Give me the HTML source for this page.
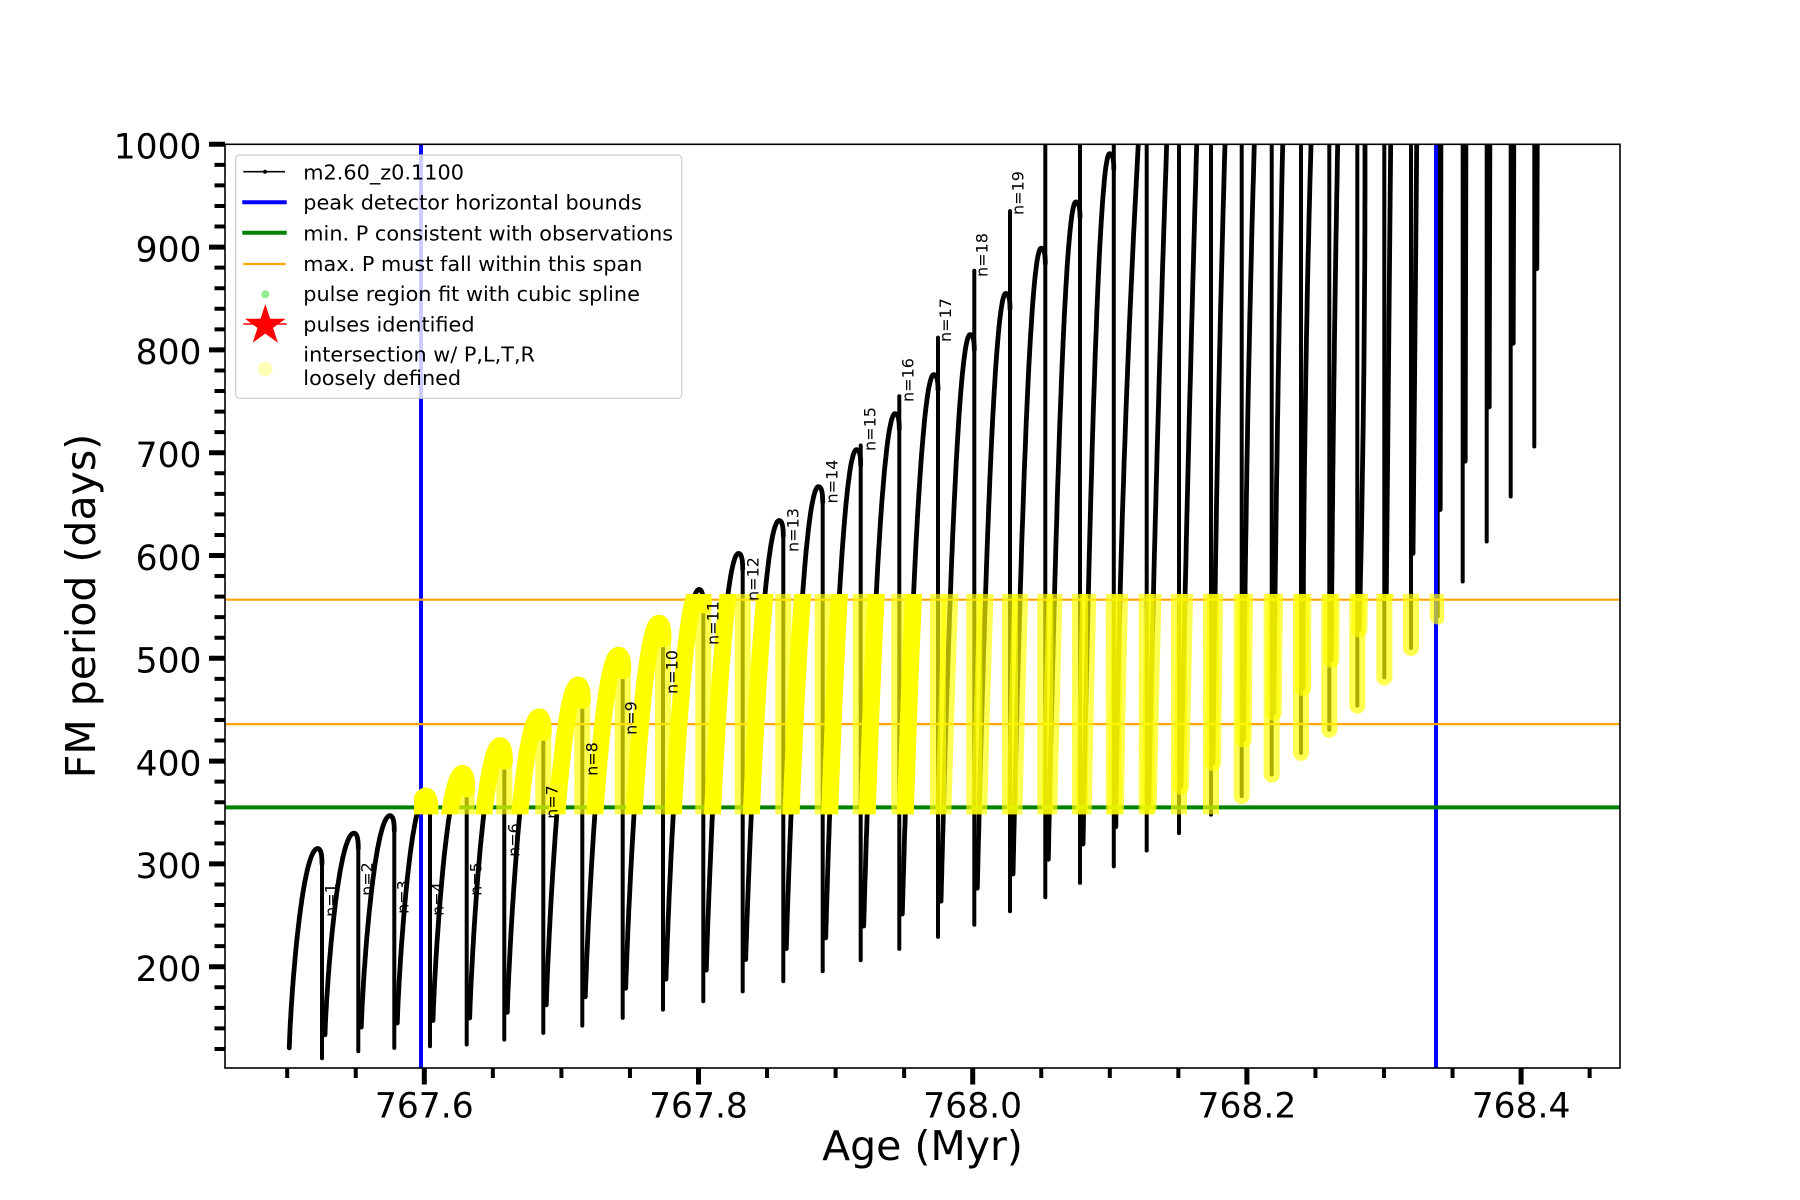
<!DOCTYPE html>
<html><head><meta charset="utf-8">
<style>
html,body{margin:0;padding:0;background:#fff;}
svg{display:block;font-family:"DejaVu Sans","Liberation Sans",sans-serif;}
</style></head>
<body>
<svg id="c" width="1800" height="1200" viewBox="0 0 1800 1200" xmlns="http://www.w3.org/2000/svg">
<defs>
<clipPath id="ax"><rect x="225" y="144.3" width="1395" height="923.7"/></clipPath>
<clipPath id="band"><rect x="414" y="594" width="1030" height="220.4"/></clipPath>
</defs>
<rect width="1800" height="1200" fill="#fff"/>

<g id="black" clip-path="url(#ax)" fill="none" stroke="#000" stroke-linejoin="round" stroke-linecap="round"></g>

<line x1="421" y1="144.3" x2="421" y2="1068" stroke="#0000ff" stroke-width="4"/>
<line x1="1436" y1="144.3" x2="1436" y2="1068" stroke="#0000ff" stroke-width="4"/>
<line x1="225" y1="807.4" x2="1620" y2="807.4" stroke="#008000" stroke-width="4"/>
<line x1="225" y1="599.7" x2="1620" y2="599.7" stroke="#ffa500" stroke-width="2.2"/>
<line x1="225" y1="724.1" x2="1620" y2="724.1" stroke="#ffa500" stroke-width="2.2"/>

<g id="yellow" clip-path="url(#band)" fill="none" stroke="#ffff00" stroke-linejoin="round" stroke-linecap="round"></g>

<g font-size="16" fill="#000" text-anchor="middle">
<text transform="translate(331,900) rotate(-90)" dy="0.35em">n=1</text>
<text transform="translate(367,879) rotate(-90)" dy="0.35em">n=2</text>
<text transform="translate(403,897) rotate(-90)" dy="0.35em">n=3</text>
<text transform="translate(438,899) rotate(-90)" dy="0.35em">n=4</text>
<text transform="translate(476,879) rotate(-90)" dy="0.35em">n=5</text>
<text transform="translate(514,840) rotate(-90)" dy="0.35em">n=6</text>
<text transform="translate(552,802) rotate(-90)" dy="0.35em">n=7</text>
<text transform="translate(592,759) rotate(-90)" dy="0.35em">n=8</text>
<text transform="translate(631,718) rotate(-90)" dy="0.35em">n=9</text>
<text transform="translate(672,672) rotate(-90)" dy="0.35em">n=10</text>
<text transform="translate(713,623) rotate(-90)" dy="0.35em">n=11</text>
<text transform="translate(753,579) rotate(-90)" dy="0.35em">n=12</text>
<text transform="translate(793,530) rotate(-90)" dy="0.35em">n=13</text>
<text transform="translate(832,481.5) rotate(-90)" dy="0.35em">n=14</text>
<text transform="translate(870,429) rotate(-90)" dy="0.35em">n=15</text>
<text transform="translate(908,380) rotate(-90)" dy="0.35em">n=16</text>
<text transform="translate(945.5,320) rotate(-90)" dy="0.35em">n=17</text>
<text transform="translate(982,255) rotate(-90)" dy="0.35em">n=18</text>
<text transform="translate(1018,193) rotate(-90)" dy="0.35em">n=19</text>
</g>

<!-- spines -->
<rect x="225" y="144.3" width="1395" height="923.7" fill="none" stroke="#000" stroke-width="1.6"/>

<!-- y ticks -->
<path stroke="#000" stroke-width="5" fill="none" d="M209 144.3H225M209 247.1H225M209 349.9H225M209 452.7H225M209 555.5H225M209 658.3H225M209 761.1H225M209 863.9H225M209 966.7H225"/>
<path stroke="#000" stroke-width="4" fill="none" d="M214.5 164.86H225M214.5 185.42H225M214.5 205.98H225M214.5 226.54H225M214.5 267.66H225M214.5 288.22H225M214.5 308.78H225M214.5 329.34H225M214.5 370.46H225M214.5 391.02H225M214.5 411.58H225M214.5 432.14H225M214.5 473.26H225M214.5 493.82H225M214.5 514.38H225M214.5 534.94H225M214.5 576.06H225M214.5 596.62H225M214.5 617.18H225M214.5 637.74H225M214.5 678.86H225M214.5 699.42H225M214.5 719.98H225M214.5 740.54H225M214.5 781.66H225M214.5 802.22H225M214.5 822.78H225M214.5 843.34H225M214.5 884.46H225M214.5 905.02H225M214.5 925.58H225M214.5 946.14H225M214.5 987.26H225M214.5 1007.82H225M214.5 1028.38H225M214.5 1048.94H225"/>
<!-- x ticks -->
<path stroke="#000" stroke-width="5" fill="none" d="M424.3 1068V1084.5M698.5 1068V1084.5M972.7 1068V1084.5M1246.9 1068V1084.5M1521.1 1068V1084.5"/>
<path stroke="#000" stroke-width="4" fill="none" d="M287.2 1068V1078M355.75 1068V1078M492.85 1068V1078M561.4 1068V1078M629.95 1068V1078M767.05 1068V1078M835.6 1068V1078M904.15 1068V1078M1041.25 1068V1078M1109.8 1068V1078M1178.35 1068V1078M1315.45 1068V1078M1384 1068V1078M1452.55 1068V1078M1589.65 1068V1078"/>

<g font-size="34.5" fill="#000" text-anchor="end">
<text x="201.5" y="158.6">1000</text>
<text x="201.5" y="261.4">900</text>
<text x="201.5" y="364.2">800</text>
<text x="201.5" y="467">700</text>
<text x="201.5" y="569.8">600</text>
<text x="201.5" y="672.6">500</text>
<text x="201.5" y="775.4">400</text>
<text x="201.5" y="878.2">300</text>
<text x="201.5" y="981">200</text>
</g>
<g font-size="34.5" fill="#000" text-anchor="middle">
<text x="424.3" y="1117.3">767.6</text>
<text x="698.5" y="1117.3">767.8</text>
<text x="972.7" y="1117.3">768.0</text>
<text x="1246.9" y="1117.3">768.2</text>
<text x="1521.1" y="1117.3">768.4</text>
</g>
<text x="922.5" y="1160" font-size="41" text-anchor="middle" fill="#000">Age (Myr)</text>
<text transform="translate(95,606) rotate(-90)" font-size="41" text-anchor="middle" fill="#000">FM period (days)</text>

<!-- legend -->
<rect x="235.7" y="155" width="446" height="243.3" rx="4" ry="4" fill="#fff" fill-opacity="0.8" stroke="#cccccc" stroke-width="1.2"/>
<line x1="243.3" y1="171.7" x2="285" y2="171.7" stroke="#000" stroke-width="1.6"/>
<circle cx="265" cy="171.7" r="2" fill="#000"/>
<line x1="242.3" y1="202.3" x2="286.7" y2="202.3" stroke="#0000ff" stroke-width="4"/>
<line x1="242.3" y1="232.7" x2="286.7" y2="232.7" stroke="#008000" stroke-width="4"/>
<line x1="243.3" y1="264" x2="285.7" y2="264" stroke="#ffa500" stroke-width="2.2"/>
<circle cx="265.3" cy="294.3" r="4" fill="#90ee90"/>
<line x1="243.3" y1="324" x2="286.7" y2="324" stroke="#ff0000" stroke-width="1.6"/>
<polygon fill="#ff0000" points="265.3,304 270.1,318.8 285.65,318.8 273.07,327.92 277.88,342.71 265.3,333.57 252.72,342.71 257.53,327.92 244.95,318.8 260.5,318.8"/>
<circle cx="265.3" cy="369" r="7.3" fill="#ffffb8"/>
<g font-size="20.8" fill="#000">
<text x="303.3" y="179.3">m2.60_z0.1100</text>
<text x="303.3" y="209.5">peak detector horizontal bounds</text>
<text x="303.3" y="240.3">min. P consistent with observations</text>
<text x="303.3" y="270.8">max. P must fall within this span</text>
<text x="303.3" y="301.2">pulse region fit with cubic spline</text>
<text x="303.3" y="331.7">pulses identified</text>
<text x="303.3" y="361.7">intersection w/ P,L,T,R</text>
<text x="303.3" y="385.2">loosely defined</text>
</g>
</svg>
<script>
(function(){
var NS='http://www.w3.org/2000/svg';
function Y(v){return 144.3+(1000-v)*1.028;}
var xd=[0,322,358.3,394.3,430,466.7,504.3,543.3,582.3,622.7,663,703.3,742.7,783.3,822.7,860.7,899.3,938,974.3,1010,1045.3,1080,1113.8,1146.7,1179,1211,1241.7,1271.7,1301,1329.3,1357.3,1384.3,1411,1437.7,1462.7,1486.7,1510.7,1534.3];
var m=[0,111,117.7,121,122.6,124.3,129.1,135.6,142.7,150.2,158.3,166.4,176,185.8,195.5,206.2,217.3,229,240.9,253.9,267.5,281.5,297.6,313,330,348,366,387,408,430.5,454,481.4,510,540.7,574.7,613.6,657.4,706];
var gl={23:42,24:45,25:50,26:55,27:60,28:63,29:68,30:74,31:82,32:92,33:104,34:117,35:131,36:149,37:173};
function r(k){return k===0?121:m[k]+(k<=22?22+0.75*k:gl[k]);}
var p=[0,315,330,347,366,388,415,443,474,503,534,567,602,634,667,703,738,776,815,855,899,944,991];
var sp={15:707,16:755,17:812,18:877,19:935,20:1150,21:1150,22:1150};
var late={23:[1120,1138.3],24:[1153.3,1166.7],25:[1185,1196.7],26:[1215,1225],27:[1245,1254.3],28:[1275,1282.7],29:[1303.3,1311],30:[1331.7,1337.7],31:[1360,1365],32:[1386.7,1390.7],33:[1413.3,1416.7]};
function f1(n){return n.toFixed(1);}
function P(a){var s='';for(var i=0;i<a.length;i++){s+=(i?'L':'M')+f1(a[i][0])+' '+f1(a[i][1]);}return s;}
var rises=[],drops=[];
for(var k=1;k<=22;k++){
  var xs=k===1?289.3:xd[k-1]+3, vs=r(k-1), xp=xd[k]-4.2;
  var e=Math.min(1,0.78+0.012*k);
  var a=[];
  for(var i=0;i<=60;i++){var t=Math.pow(i/60,1.7);var f=Math.pow(1-(1-t)*(1-t),e);a.push([xs+t*(xp-xs),Y(vs+f*(p[k]-vs))]);}
  var c=15;
  var d=P(a)+'Q'+f1(xd[k])+' '+f1(Y(p[k]))+' '+f1(xd[k])+' '+f1(Y(p[k]-c));
  rises.push([k,d]);
  var top=sp[k]?sp[k]:p[k]-c;
  drops.push([k,'M'+f1(xd[k])+' '+f1(Y(top))+'L'+f1(xd[k])+' '+f1(Y(m[k]))]);
}
for(var k=23;k<=33;k++){
  var xs=xd[k-1]+2, vs=r(k-1), A=late[k][0], B=late[k][1];
  var a=[];
  if(vs<540){
    (function(xs,vs,A,B){
      var v0=vs,v1=557,v2=1000;
      function L(v){return xs*((v-v1)*(v-v2))/((v0-v1)*(v0-v2))+A*((v-v0)*(v-v2))/((v1-v0)*(v1-v2))+B*((v-v0)*(v-v1))/((v2-v0)*(v2-v1));}
      for(var i=0;i<=40;i++){var v=vs+(1012-vs)*i/40;a.push([L(v),Y(v)]);}
    })(xs,vs,A,B);
  } else {
    var s=(B-xs)/(1000-vs);
    a=[[xs,Y(vs)],[xs+s*(1012-vs),Y(1012)]];
  }
  rises.push([k,P(a)]);
  drops.push([k,'M'+f1(xd[k])+' '+f1(Y(1150))+'L'+f1(xd[k])+' '+f1(Y(m[k]))]);
}
for(var k=34;k<=38;k++){
  var xs=xd[k-1]+2.5, vs=r(k-1);
  rises.push([k,'M'+f1(xs)+' '+f1(Y(vs))+'L'+f1(xs+1)+' '+f1(Y(1150))]);
  if(k<=37) drops.push([k,'M'+f1(xd[k])+' '+f1(Y(1150))+'L'+f1(xd[k])+' '+f1(Y(m[k]))]);
}
var gb=document.getElementById('black'), gy=document.getElementById('yellow');
function add(g,d,w,o){var el=document.createElementNS(NS,'path');el.setAttribute('d',d);el.setAttribute('stroke-width',w);if(o!==undefined)el.setAttribute('stroke-opacity',o);g.appendChild(el);}
drops.forEach(function(q){add(gb,q[1],4);});
rises.forEach(function(q){add(gb,q[1],4.8);});
drops.forEach(function(q){add(gy,q[1],16,0.68);});
rises.forEach(function(q){add(gy,q[1],q[0]<=17?17:16,q[0]<=17?1:0.68);});
})();
</script>
</body></html>
